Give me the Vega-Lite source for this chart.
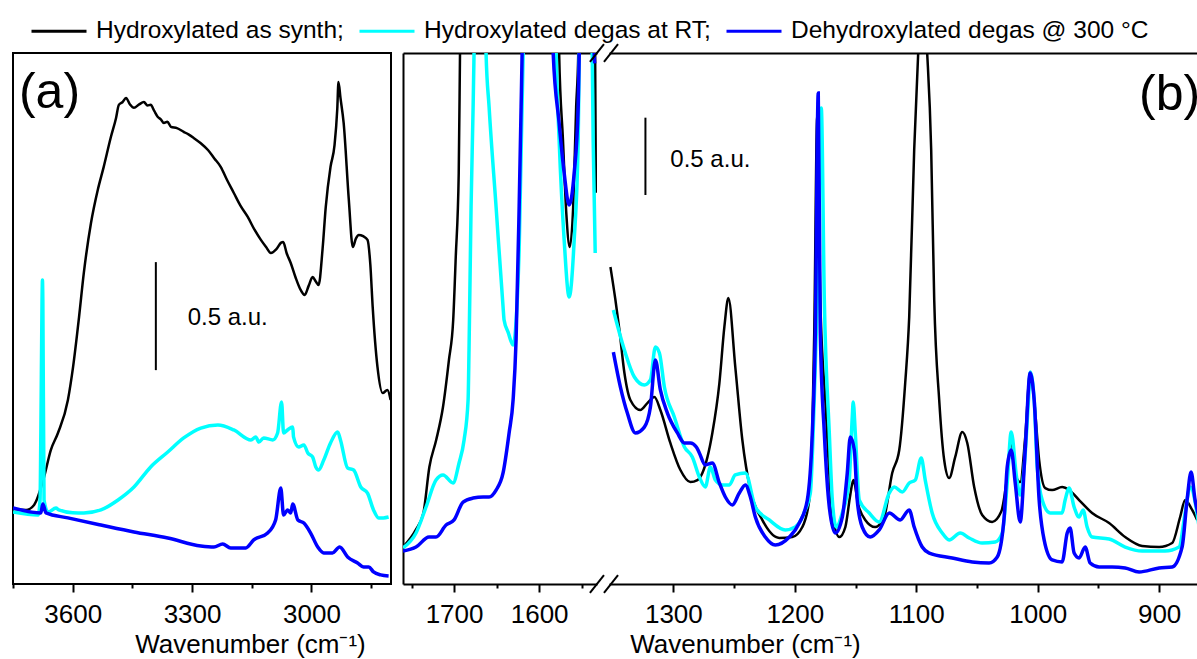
{
  "$schema": "https://vega.github.io/schema/vega-lite/v6.json",
  "padding": {"left": 11, "top": 2, "right": 0, "bottom": 0},
  "autosize": {"type": "pad"},
  "background": "white",
  "spacing": 12,
  "bounds": "flush",
  "config": {
    "font": "Liberation Sans",
    "view": {"stroke": null},
    "axis": {"grid": false, "domainColor": "black", "domainWidth": 2, "tickColor": "black", "tickWidth": 2, "labelColor": "black", "titleColor": "black", "labelFont": "Liberation Sans", "titleFont": "Liberation Sans", "labelFontSize": 26, "titleFontSize": 26, "titleFontWeight": "normal", "labelPadding": 9, "titlePadding": 4, "tickSize": 8},
    "legend": {"orient": "none", "legendX": 17, "legendY": -51, "direction": "horizontal", "columns": 3, "symbolType": "stroke", "symbolSize": 3025, "symbolStrokeWidth": 3, "labelFont": "Liberation Sans", "labelFontSize": 24.5, "labelColor": "black", "labelOffset": 8, "columnPadding": 9, "padding": 0, "labelLimit": 0}
  },
  "datasets": {
    "a_k": [
      {"wn":3750,"abs":0.347},{"wn":3717,"abs":0.343},{"wn":3697,"abs":0.366},{"wn":3672,"abs":0.495},{"wn":3655,"abs":0.620},{"wn":3637,"abs":0.699},{"wn":3612,"abs":0.852},{"wn":3599,"abs":1.005},{"wn":3584,"abs":1.236},{"wn":3572,"abs":1.440},{"wn":3554,"abs":1.671},{"wn":3537,"abs":1.824},{"wn":3522,"abs":1.931},{"wn":3504,"abs":2.069},{"wn":3491,"abs":2.157},{"wn":3484,"abs":2.218},{"wn":3475,"abs":2.23},{"wn":3466,"abs":2.250},{"wn":3456,"abs":2.22},{"wn":3446,"abs":2.204},{"wn":3433,"abs":2.22},{"wn":3421,"abs":2.231},{"wn":3412,"abs":2.215},{"wn":3404,"abs":2.218},{"wn":3395,"abs":2.19},{"wn":3386,"abs":2.162},{"wn":3378,"abs":2.15},{"wn":3371,"abs":2.134},{"wn":3362,"abs":2.14},{"wn":3353,"abs":2.116},{"wn":3338,"abs":2.11},{"wn":3321,"abs":2.093},{"wn":3308,"abs":2.08},{"wn":3296,"abs":2.065},{"wn":3278,"abs":2.04},{"wn":3260,"abs":2.009},{"wn":3244,"abs":1.97},{"wn":3228,"abs":1.931},{"wn":3212,"abs":1.87},{"wn":3195,"abs":1.810},{"wn":3178,"abs":1.75},{"wn":3160,"abs":1.699},{"wn":3143,"abs":1.64},{"wn":3127,"abs":1.593},{"wn":3114,"abs":1.56},{"wn":3102,"abs":1.532},{"wn":3088,"abs":1.55},{"wn":3076,"abs":1.58},{"wn":3071,"abs":1.583},{"wn":3062,"abs":1.53},{"wn":3052,"abs":1.486},{"wn":3040,"abs":1.42},{"wn":3027,"abs":1.361},{"wn":3017,"abs":1.338},{"wn":3007,"abs":1.38},{"wn":2997,"abs":1.421},{"wn":2989,"abs":1.40},{"wn":2982,"abs":1.384},{"wn":2972,"abs":1.55},{"wn":2964,"abs":1.745},{"wn":2952,"abs":1.931},{"wn":2942,"abs":2.03},{"wn":2935,"abs":2.20},{"wn":2932,"abs":2.324},{"wn":2927,"abs":2.25},{"wn":2919,"abs":2.134},{"wn":2906,"abs":1.778},{"wn":2896,"abs":1.560},{"wn":2888,"abs":1.60},{"wn":2881,"abs":1.616},{"wn":2870,"abs":1.61},{"wn":2859,"abs":1.593},{"wn":2852,"abs":1.48},{"wn":2846,"abs":1.282},{"wn":2834,"abs":1.005},{"wn":2821,"abs":0.884},{"wn":2809,"abs":0.898},{"wn":2801,"abs":0.852}
    ],
    "a_c": [
      {"wn":3750,"abs":0.333},{"wn":3687,"abs":0.319},{"wn":3682,"abs":0.389},{"wn":3680,"abs":0.699},{"wn":3677,"abs":1.315},{"wn":3676,"abs":1.407},{"wn":3675,"abs":1.315},{"wn":3672,"abs":0.389},{"wn":3662,"abs":0.333},{"wn":3642,"abs":0.352},{"wn":3635,"abs":0.343},{"wn":3600,"abs":0.33},{"wn":3572,"abs":0.329},{"wn":3529,"abs":0.343},{"wn":3486,"abs":0.389},{"wn":3446,"abs":0.449},{"wn":3404,"abs":0.542},{"wn":3361,"abs":0.611},{"wn":3321,"abs":0.676},{"wn":3278,"abs":0.722},{"wn":3235,"abs":0.736},{"wn":3195,"abs":0.713},{"wn":3152,"abs":0.667},{"wn":3140,"abs":0.681},{"wn":3132,"abs":0.657},{"wn":3120,"abs":0.676},{"wn":3097,"abs":0.667},{"wn":3085,"abs":0.699},{"wn":3075,"abs":0.843},{"wn":3070,"abs":0.699},{"wn":3060,"abs":0.713},{"wn":3047,"abs":0.727},{"wn":3045,"abs":0.681},{"wn":3032,"abs":0.634},{"wn":3019,"abs":0.644},{"wn":3009,"abs":0.606},{"wn":2997,"abs":0.588},{"wn":2989,"abs":0.542},{"wn":2982,"abs":0.528},{"wn":2969,"abs":0.574},{"wn":2952,"abs":0.653},{"wn":2934,"abs":0.704},{"wn":2927,"abs":0.667},{"wn":2909,"abs":0.537},{"wn":2894,"abs":0.528},{"wn":2876,"abs":0.449},{"wn":2859,"abs":0.421},{"wn":2844,"abs":0.343},{"wn":2831,"abs":0.306},{"wn":2819,"abs":0.306},{"wn":2806,"abs":0.310}
    ],
    "a_b": [
      {"wn":3750,"abs":0.352},{"wn":3680,"abs":0.329},{"wn":3675,"abs":0.370},{"wn":3667,"abs":0.329},{"wn":3612,"abs":0.306},{"wn":3529,"abs":0.273},{"wn":3446,"abs":0.241},{"wn":3361,"abs":0.213},{"wn":3278,"abs":0.176},{"wn":3245,"abs":0.171},{"wn":3223,"abs":0.185},{"wn":3203,"abs":0.167},{"wn":3165,"abs":0.167},{"wn":3145,"abs":0.204},{"wn":3110,"abs":0.236},{"wn":3090,"abs":0.296},{"wn":3077,"abs":0.444},{"wn":3070,"abs":0.319},{"wn":3060,"abs":0.343},{"wn":3052,"abs":0.329},{"wn":3047,"abs":0.370},{"wn":3034,"abs":0.296},{"wn":3019,"abs":0.282},{"wn":3002,"abs":0.236},{"wn":2984,"abs":0.171},{"wn":2969,"abs":0.144},{"wn":2947,"abs":0.144},{"wn":2929,"abs":0.171},{"wn":2909,"abs":0.125},{"wn":2884,"abs":0.097},{"wn":2869,"abs":0.079},{"wn":2856,"abs":0.079},{"wn":2844,"abs":0.056},{"wn":2826,"abs":0.042},{"wn":2806,"abs":0.037}
    ],
    "bl_k": [
      {"wn":1760,"abs":0.240},{"wn":1745,"abs":0.351},{"wn":1736,"abs":0.461},{"wn":1729,"abs":0.760},{"wn":1721,"abs":0.935},{"wn":1713,"abs":1.149},{"wn":1706,"abs":1.455},{"wn":1701,"abs":1.714},{"wn":1698,"abs":2.123},{"wn":1694.5,"abs":2.669},{"wn":1693,"abs":3.448},{"wn":1690,"abs":5},{"wn":1580,"abs":5},{"wn":1576.5,"abs":3.448},{"wn":1572,"abs":2.883},{"wn":1568,"abs":2.40},{"wn":1564,"abs":2.188},{"wn":1560,"abs":2.448},{"wn":1556.5,"abs":3.097},{"wn":1554,"abs":3.448},{"wn":1551,"abs":5},{"wn":1536,"abs":5},{"wn":1534.2,"abs":3.448},{"wn":1533.3,"abs":2.54}
    ],
    "bl_c": [
      {"wn":1760,"abs":0.234},{"wn":1744.7,"abs":0.331},{"wn":1732.9,"abs":0.500},{"wn":1721.2,"abs":0.675},{"wn":1712.9,"abs":0.708},{"wn":1701.2,"abs":0.656},{"wn":1694.1,"abs":0.786},{"wn":1688.2,"abs":0.935},{"wn":1683.5,"abs":1.195},{"wn":1682.4,"abs":1.519},{"wn":1680,"abs":2.448},{"wn":1677.6,"abs":3.097},{"wn":1676.5,"abs":3.448},{"wn":1672,"abs":5},{"wn":1666,"abs":5},{"wn":1662.4,"abs":3.448},{"wn":1658.8,"abs":3.097},{"wn":1650.6,"abs":2.448},{"wn":1642.4,"abs":1.799},{"wn":1641.2,"abs":1.714},{"wn":1636.5,"abs":1.636},{"wn":1630.6,"abs":1.552},{"wn":1623.5,"abs":2.169},{"wn":1618.8,"abs":3.448},{"wn":1615,"abs":5},{"wn":1584,"abs":5},{"wn":1580,"abs":3.448},{"wn":1576.5,"abs":2.883},{"wn":1570.6,"abs":2.234},{"wn":1564.7,"abs":1.864},{"wn":1558.8,"abs":2.234},{"wn":1554.1,"abs":2.883},{"wn":1552.9,"abs":3.448},{"wn":1549,"abs":5},{"wn":1541,"abs":5},{"wn":1537.6,"abs":3.448},{"wn":1536.5,"abs":2.883},{"wn":1534.1,"abs":2.149}
    ],
    "bl_b": [
      {"wn":1760,"abs":0.214},{"wn":1744.7,"abs":0.240},{"wn":1729.4,"abs":0.305},{"wn":1721.2,"abs":0.305},{"wn":1709.4,"abs":0.383},{"wn":1700,"abs":0.416},{"wn":1689.4,"abs":0.532},{"wn":1677.6,"abs":0.558},{"wn":1665.9,"abs":0.565},{"wn":1658.8,"abs":0.565},{"wn":1650.6,"abs":0.610},{"wn":1642.4,"abs":0.721},{"wn":1635.3,"abs":0.981},{"wn":1630.6,"abs":1.195},{"wn":1627.1,"abs":1.584},{"wn":1623.5,"abs":2.448},{"wn":1621.2,"abs":3.097},{"wn":1620,"abs":3.448},{"wn":1617,"abs":5},{"wn":1587,"abs":5},{"wn":1583.5,"abs":3.448},{"wn":1576.5,"abs":2.994},{"wn":1570.6,"abs":2.669},{"wn":1564.7,"abs":2.461},{"wn":1558.8,"abs":2.669},{"wn":1554.1,"abs":3.097},{"wn":1552.9,"abs":3.448},{"wn":1549,"abs":5},{"wn":1538,"abs":5},{"wn":1535.3,"abs":3.448},{"wn":1534.7,"abs":3.38}
    ],
    "br_k": [
      {"wn":1351.8,"abs":2.058},{"wn":1347.7,"abs":1.844},{"wn":1344.4,"abs":1.649},{"wn":1340.3,"abs":1.370},{"wn":1335.4,"abs":1.195},{"wn":1327.2,"abs":1.130},{"wn":1321.4,"abs":1.175},{"wn":1315.6,"abs":1.214},{"wn":1310.7,"abs":1.130},{"wn":1302.5,"abs":0.916},{"wn":1294.2,"abs":0.740},{"wn":1286,"abs":0.662},{"wn":1280.2,"abs":0.675},{"wn":1276.1,"abs":0.721},{"wn":1267.9,"abs":0.981},{"wn":1262.1,"abs":1.305},{"wn":1258,"abs":1.669},{"wn":1254.7,"abs":1.857},{"wn":1249,"abs":1.409},{"wn":1243.2,"abs":0.935},{"wn":1236.6,"abs":0.610},{"wn":1226.8,"abs":0.416},{"wn":1212.8,"abs":0.299},{"wn":1202.1,"abs":0.305},{"wn":1193.8,"abs":0.370},{"wn":1188.1,"abs":0.545},{"wn":1185.6,"abs":0.981},{"wn":1184,"abs":1.630},{"wn":1181.5,"abs":3.05},{"wn":1179,"abs":1.844},{"wn":1174.9,"abs":1.195},{"wn":1169.1,"abs":0.461},{"wn":1163.4,"abs":0.305},{"wn":1158.4,"abs":0.370},{"wn":1154.3,"abs":0.58},{"wn":1151.8,"abs":0.675},{"wn":1147.7,"abs":0.513},{"wn":1142,"abs":0.416},{"wn":1133.8,"abs":0.370},{"wn":1126.4,"abs":0.435},{"wn":1119.8,"abs":0.721},{"wn":1114,"abs":0.870},{"wn":1109.1,"abs":1.305},{"wn":1105.8,"abs":1.734},{"wn":1101.7,"abs":2.818},{"wn":1098.4,"abs":3.448},{"wn":1095,"abs":3.9},{"wn":1091,"abs":3.448},{"wn":1087.7,"abs":2.818},{"wn":1085.2,"abs":1.844},{"wn":1081.1,"abs":1.195},{"wn":1077,"abs":0.805},{"wn":1072.9,"abs":0.688},{"wn":1067.9,"abs":0.825},{"wn":1062.1,"abs":0.987},{"wn":1058,"abs":0.916},{"wn":1052.3,"abs":0.630},{"wn":1045.7,"abs":0.448},{"wn":1037.5,"abs":0.403},{"wn":1030,"abs":0.47},{"wn":1025.1,"abs":0.70},{"wn":1021.8,"abs":0.935},{"wn":1018,"abs":0.70},{"wn":1014.4,"abs":0.662},{"wn":1010.3,"abs":0.95},{"wn":1006.2,"abs":1.377},{"wn":1002.9,"abs":1.195},{"wn":998.8,"abs":0.805},{"wn":993.8,"abs":0.623},{"wn":988.1,"abs":0.610},{"wn":979.9,"abs":0.630},{"wn":974.1,"abs":0.610},{"wn":965.9,"abs":0.545},{"wn":955.2,"abs":0.461},{"wn":941.2,"abs":0.396},{"wn":928,"abs":0.305},{"wn":914,"abs":0.247},{"wn":900,"abs":0.240},{"wn":889.3,"abs":0.266},{"wn":882.7,"abs":0.435},{"wn":878.6,"abs":0.545},{"wn":872.8,"abs":0.481},{"wn":868.7,"abs":0.416}
    ],
    "br_c": [
      {"wn":1349.4,"abs":1.779},{"wn":1340.3,"abs":1.519},{"wn":1332.1,"abs":1.344},{"wn":1323.9,"abs":1.292},{"wn":1318.9,"abs":1.325},{"wn":1314.8,"abs":1.539},{"wn":1311.5,"abs":1.500},{"wn":1307.4,"abs":1.279},{"wn":1299.2,"abs":1.084},{"wn":1290.9,"abs":0.890},{"wn":1284.4,"abs":0.825},{"wn":1278.6,"abs":0.695},{"wn":1273.7,"abs":0.630},{"wn":1269.5,"abs":0.760},{"wn":1265.4,"abs":0.675},{"wn":1259.7,"abs":0.643},{"wn":1253.9,"abs":0.643},{"wn":1249,"abs":0.708},{"wn":1240.7,"abs":0.721},{"wn":1232.5,"abs":0.500},{"wn":1221,"abs":0.416},{"wn":1207.8,"abs":0.351},{"wn":1199.6,"abs":0.370},{"wn":1191.4,"abs":0.481},{"wn":1187.2,"abs":0.591},{"wn":1184,"abs":1.195},{"wn":1181.5,"abs":1.844},{"wn":1178.2,"abs":3.091},{"wn":1175.7,"abs":1.844},{"wn":1171.6,"abs":0.981},{"wn":1169.1,"abs":0.545},{"wn":1165.9,"abs":0.370},{"wn":1160.9,"abs":0.461},{"wn":1155.2,"abs":0.675},{"wn":1152.7,"abs":1.084},{"wn":1151.9,"abs":1.182},{"wn":1150.2,"abs":0.981},{"wn":1146.9,"abs":0.545},{"wn":1138.7,"abs":0.461},{"wn":1130.5,"abs":0.403},{"wn":1122.2,"abs":0.591},{"wn":1118.1,"abs":0.630},{"wn":1111.5,"abs":0.597},{"wn":1105.8,"abs":0.656},{"wn":1100.8,"abs":0.675},{"wn":1095.9,"abs":0.818},{"wn":1092.6,"abs":0.675},{"wn":1086.9,"abs":0.461},{"wn":1078.6,"abs":0.331},{"wn":1072.9,"abs":0.286},{"wn":1063.8,"abs":0.331},{"wn":1056.4,"abs":0.299},{"wn":1045.7,"abs":0.266},{"wn":1035,"abs":0.273},{"wn":1029.2,"abs":0.331},{"wn":1025.1,"abs":0.656},{"wn":1021.8,"abs":0.987},{"wn":1017.5,"abs":0.70},{"wn":1014.4,"abs":0.578},{"wn":1011.1,"abs":0.760},{"wn":1007.6,"abs":1.195},{"wn":1006.2,"abs":1.377},{"wn":1002.9,"abs":1.195},{"wn":1000.4,"abs":0.760},{"wn":996.3,"abs":0.545},{"wn":989.7,"abs":0.461},{"wn":979.9,"abs":0.461},{"wn":977.4,"abs":0.545},{"wn":974.1,"abs":0.623},{"wn":970,"abs":0.500},{"wn":965.9,"abs":0.435},{"wn":962.6,"abs":0.481},{"wn":959.3,"abs":0.370},{"wn":955.2,"abs":0.305},{"wn":941.2,"abs":0.292},{"wn":928,"abs":0.240},{"wn":914,"abs":0.214},{"wn":895.1,"abs":0.214},{"wn":883.6,"abs":0.240},{"wn":878.6,"abs":0.461},{"wn":874.5,"abs":0.630},{"wn":867.1,"abs":0.370}
    ],
    "br_b": [
      {"wn":1349.4,"abs":1.506},{"wn":1343.6,"abs":1.279},{"wn":1337.9,"abs":1.110},{"wn":1331.3,"abs":0.981},{"wn":1323.9,"abs":1.019},{"wn":1318.9,"abs":1.149},{"wn":1314.8,"abs":1.455},{"wn":1310.7,"abs":1.260},{"wn":1304.9,"abs":1.110},{"wn":1296.7,"abs":0.981},{"wn":1290.9,"abs":0.916},{"wn":1286,"abs":0.916},{"wn":1281.1,"abs":0.890},{"wn":1278.6,"abs":0.851},{"wn":1273.7,"abs":0.773},{"wn":1267.9,"abs":0.786},{"wn":1262.1,"abs":0.656},{"wn":1257.2,"abs":0.565},{"wn":1251.4,"abs":0.513},{"wn":1245.7,"abs":0.591},{"wn":1240.7,"abs":0.643},{"wn":1236.6,"abs":0.565},{"wn":1232.5,"abs":0.435},{"wn":1224.3,"abs":0.305},{"wn":1216.1,"abs":0.253},{"wn":1204.5,"abs":0.305},{"wn":1196.3,"abs":0.396},{"wn":1189.7,"abs":0.545},{"wn":1185.6,"abs":0.981},{"wn":1183.1,"abs":1.630},{"wn":1180.7,"abs":3.188},{"wn":1179,"abs":1.630},{"wn":1175.7,"abs":0.981},{"wn":1171.6,"abs":0.500},{"wn":1166.7,"abs":0.331},{"wn":1160.9,"abs":0.435},{"wn":1156.8,"abs":0.721},{"wn":1154.3,"abs":0.955},{"wn":1151,"abs":0.870},{"wn":1148.6,"abs":0.545},{"wn":1144.5,"abs":0.370},{"wn":1137.9,"abs":0.305},{"wn":1130.5,"abs":0.351},{"wn":1122.2,"abs":0.461},{"wn":1113.2,"abs":0.416},{"wn":1105.8,"abs":0.481},{"wn":1101.7,"abs":0.370},{"wn":1095.1,"abs":0.240},{"wn":1089.3,"abs":0.201},{"wn":1070.4,"abs":0.169},{"wn":1053.9,"abs":0.143},{"wn":1040,"abs":0.136},{"wn":1033.3,"abs":0.175},{"wn":1027.6,"abs":0.435},{"wn":1025.1,"abs":0.760},{"wn":1021.8,"abs":0.870},{"wn":1018.5,"abs":0.656},{"wn":1014.4,"abs":0.403},{"wn":1010.3,"abs":0.870},{"wn":1006.2,"abs":1.370},{"wn":1002.9,"abs":1.195},{"wn":998.8,"abs":0.545},{"wn":994.7,"abs":0.286},{"wn":988.1,"abs":0.156},{"wn":979.9,"abs":0.143},{"wn":975.7,"abs":0.331},{"wn":973.3,"abs":0.364},{"wn":970,"abs":0.201},{"wn":965.9,"abs":0.169},{"wn":960.9,"abs":0.240},{"wn":956.8,"abs":0.136},{"wn":949.4,"abs":0.110},{"wn":938.7,"abs":0.110},{"wn":928,"abs":0.104},{"wn":916.5,"abs":0.078},{"wn":900,"abs":0.104},{"wn":889.3,"abs":0.110},{"wn":881.1,"abs":0.240},{"wn":877,"abs":0.545},{"wn":873.7,"abs":0.727},{"wn":870.4,"abs":0.545},{"wn":867.1,"abs":0.435}
    ]
  },
  "hconcat": [
    {
      "width": 378, "height": 531,
      "view": {"stroke": "black", "strokeWidth": 2},
      "resolve": {"axis": {"x": "independent"}},
      "layer": [
        {"data": {"name": "a_k"}, "mark": {"type": "line", "strokeWidth": 2.5, "clip": true, "interpolate": "monotone"},
         "encoding": {
           "x": {"field": "wn", "type": "quantitative", "scale": {"domain": [2800, 3750], "reverse": true, "nice": false, "zero": false}, "axis": {"orient": "bottom", "values": [3600, 3300, 3000], "format": "d", "domain": false, "title": "Wavenumber (cm⁻¹)", "titleX": 237}},
           "y": {"field": "abs", "type": "quantitative", "scale": {"domain": [0, 2.458], "nice": false, "zero": false}, "axis": null},
           "color": {"datum": "Hydroxylated as synth;", "title": null, "scale": {"domain": ["Hydroxylated as synth;", "Hydroxylated degas at RT;", "Dehydroxylated degas @ 300 °C"], "range": ["#000000", "#00ffff", "#0000ff"]}}
         }},
        {"data": {"name": "a_c"}, "mark": {"type": "line", "strokeWidth": 3.5, "clip": true, "interpolate": "monotone"},
         "encoding": {
           "x": {"field": "wn", "type": "quantitative", "scale": {"domain": [2800, 3750], "reverse": true, "nice": false, "zero": false}, "axis": {"orient": "bottom", "values": [3750, 3450, 3150, 2850], "tickSize": 4, "labels": false, "domain": false, "title": null}},
           "y": {"field": "abs", "type": "quantitative", "axis": null},
           "color": {"datum": "Hydroxylated degas at RT;", "title": null}
         }},
        {"data": {"name": "a_b"}, "mark": {"type": "line", "strokeWidth": 3.5, "clip": true, "interpolate": "monotone"},
         "encoding": {
           "x": {"field": "wn", "type": "quantitative", "axis": null},
           "y": {"field": "abs", "type": "quantitative", "axis": null},
           "color": {"datum": "Dehydroxylated degas @ 300 °C", "title": null}
         }},
        {"data": {"values": [{"wn": 3391, "abs": 0.99, "abs2": 1.49}]}, "mark": {"type": "rule", "color": "black", "strokeWidth": 2},
         "encoding": {
           "x": {"field": "wn", "type": "quantitative", "axis": null},
           "y": {"field": "abs", "type": "quantitative", "axis": null},
           "y2": {"field": "abs2"}
         }},
        {"data": {"values": [{"wn": 3311, "abs": 1.199, "label": "0.5 a.u."}]}, "mark": {"type": "text", "align": "left", "baseline": "alphabetic", "fontSize": 24, "color": "black", "font": "Liberation Sans"},
         "encoding": {
           "x": {"field": "wn", "type": "quantitative", "axis": null},
           "y": {"field": "abs", "type": "quantitative", "axis": null},
           "text": {"field": "label"}
         }},
        {"data": {"values": [{"wn": 3735, "abs": 2.204, "label": "(a)"}]}, "mark": {"type": "text", "align": "left", "baseline": "alphabetic", "fontSize": 50, "color": "black", "font": "Liberation Sans"},
         "encoding": {
           "x": {"field": "wn", "type": "quantitative", "axis": null},
           "y": {"field": "abs", "type": "quantitative", "axis": null},
           "text": {"field": "label"}
         }}
      ]
    },
    {
      "width": 194, "height": 531,
      "view": {"stroke": null},
      "resolve": {"axis": {"x": "independent", "y": "independent"}},
      "layer": [
        {"data": {"name": "bl_k"}, "mark": {"type": "line", "strokeWidth": 2.5, "clip": true, "interpolate": "monotone"},
         "encoding": {
           "x": {"field": "wn", "type": "quantitative", "scale": {"domain": [1532, 1760], "reverse": true, "nice": false, "zero": false}, "axis": {"orient": "bottom", "values": [1700, 1600], "format": "d", "title": null}},
           "y": {"field": "abs", "type": "quantitative", "scale": {"domain": [0, 3.448], "nice": false, "zero": false}, "axis": {"orient": "left", "domain": true, "ticks": false, "labels": false, "title": null}},
           "color": {"datum": "Hydroxylated as synth;", "title": null}
         }},
        {"data": {"name": "bl_c"}, "mark": {"type": "line", "strokeWidth": 3.5, "clip": true, "interpolate": "monotone"},
         "encoding": {
           "x": {"field": "wn", "type": "quantitative", "axis": {"orient": "bottom", "values": [1750, 1650, 1550], "tickSize": 4, "labels": false, "domain": false, "title": null}},
           "y": {"field": "abs", "type": "quantitative", "axis": null},
           "color": {"datum": "Hydroxylated degas at RT;", "title": null}
         }},
        {"data": {"name": "bl_b"}, "mark": {"type": "line", "strokeWidth": 3.5, "clip": true, "interpolate": "monotone"},
         "encoding": {
           "x": {"field": "wn", "type": "quantitative", "axis": {"orient": "top", "ticks": false, "labels": false, "domain": true, "title": null}},
           "y": {"field": "abs", "type": "quantitative", "axis": null},
           "color": {"datum": "Dehydroxylated degas @ 300 °C", "title": null}
         }},
        {"data": {"values": [
            {"wn": 1540.3, "wn2": 1523.8, "abs": -0.058, "abs2": 0.058},
            {"wn": 1523.8, "wn2": 1507.3, "abs": -0.058, "abs2": 0.058},
            {"wn": 1540.3, "wn2": 1523.8, "abs": 3.39, "abs2": 3.506},
            {"wn": 1523.8, "wn2": 1507.3, "abs": 3.39, "abs2": 3.506}
          ]}, "mark": {"type": "rule", "color": "black", "strokeWidth": 2, "clip": false},
         "encoding": {
           "x": {"field": "wn", "type": "quantitative", "axis": null},
           "x2": {"field": "wn2"},
           "y": {"field": "abs", "type": "quantitative", "axis": null},
           "y2": {"field": "abs2"}
         }}
      ]
    },
    {
      "width": 589, "height": 531,
      "view": {"stroke": null},
      "resolve": {"axis": {"x": "independent", "y": "independent"}},
      "layer": [
        {"data": {"name": "br_k"}, "mark": {"type": "line", "strokeWidth": 2.5, "clip": true, "interpolate": "monotone"},
         "encoding": {
           "x": {"field": "wn", "type": "quantitative", "scale": {"domain": [868, 1353], "reverse": true, "nice": false, "zero": false}, "axis": {"orient": "bottom", "values": [1300, 1200, 1100, 1000, 900], "format": "d", "title": "Wavenumber (cm⁻¹)", "titleX": 136}},
           "y": {"field": "abs", "type": "quantitative", "scale": {"domain": [0, 3.448], "nice": false, "zero": false}, "axis": null},
           "color": {"datum": "Hydroxylated as synth;", "title": null}
         }},
        {"data": {"name": "br_c"}, "mark": {"type": "line", "strokeWidth": 3.5, "clip": true, "interpolate": "monotone"},
         "encoding": {
           "x": {"field": "wn", "type": "quantitative", "axis": {"orient": "bottom", "values": [1250, 1150, 1050, 950], "tickSize": 4, "labels": false, "domain": false, "title": null}},
           "y": {"field": "abs", "type": "quantitative", "axis": null},
           "color": {"datum": "Hydroxylated degas at RT;", "title": null}
         }},
        {"data": {"name": "br_b"}, "mark": {"type": "line", "strokeWidth": 3.5, "clip": true, "interpolate": "monotone"},
         "encoding": {
           "x": {"field": "wn", "type": "quantitative", "axis": {"orient": "top", "ticks": false, "labels": false, "domain": true, "title": null}},
           "y": {"field": "abs", "type": "quantitative", "axis": null},
           "color": {"datum": "Dehydroxylated degas @ 300 °C", "title": null}
         }},
        {"data": {"values": [{"wn": 1323, "abs": 2.526, "abs2": 3.028}]}, "mark": {"type": "rule", "color": "black", "strokeWidth": 2},
         "encoding": {
           "x": {"field": "wn", "type": "quantitative", "axis": null},
           "y": {"field": "abs", "type": "quantitative", "axis": null},
           "y2": {"field": "abs2"}
         }},
        {"data": {"values": [{"wn": 1302.5, "abs": 2.708, "label": "0.5 a.u."}]}, "mark": {"type": "text", "align": "left", "baseline": "alphabetic", "fontSize": 24, "color": "black", "font": "Liberation Sans"},
         "encoding": {
           "x": {"field": "wn", "type": "quantitative", "axis": null},
           "y": {"field": "abs", "type": "quantitative", "axis": null},
           "text": {"field": "label"}
         }},
        {"data": {"values": [{"wn": 916.5, "abs": 3.078, "label": "(b)"}]}, "mark": {"type": "text", "align": "left", "baseline": "alphabetic", "fontSize": 50, "color": "black", "font": "Liberation Sans", "clip": true},
         "encoding": {
           "x": {"field": "wn", "type": "quantitative", "axis": null},
           "y": {"field": "abs", "type": "quantitative", "axis": null},
           "text": {"field": "label"}
         }}
      ]
    }
  ]
}
